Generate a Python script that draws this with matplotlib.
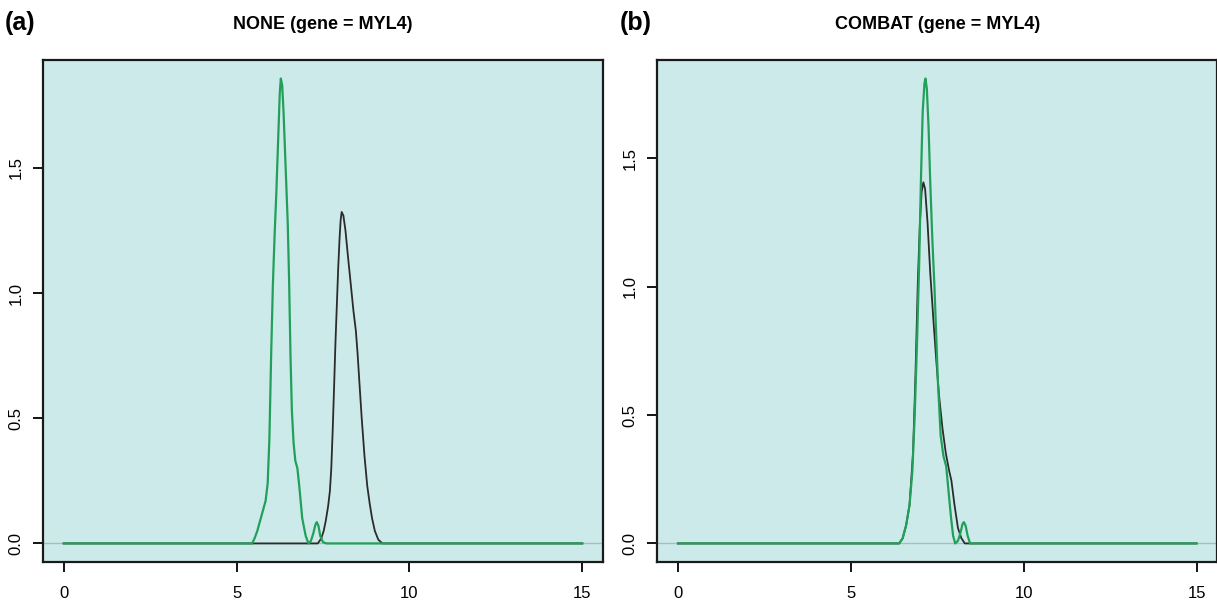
import numpy as np
import matplotlib.pyplot as plt

plt.rcParams['font.family'] = ['Liberation Sans', 'DejaVu Sans']

# density curves (x, density)
none_green_x = [0, 5.45, 5.52, 5.6, 5.68, 5.76, 5.84, 5.9, 5.95, 6.0, 6.05, 6.1, 6.15, 6.2, 6.25,
                6.28, 6.32, 6.36, 6.42, 6.48, 6.52, 6.56, 6.6, 6.65, 6.7, 6.76, 6.82, 6.9,
                7.0, 7.08, 7.15, 7.22, 7.28, 7.32, 7.37, 7.42, 7.5, 7.6, 15]
none_green_y = [0, 0, 0.02, 0.05, 0.09, 0.13, 0.17, 0.24, 0.42, 0.75, 1.03, 1.23, 1.4, 1.6, 1.8,
                1.857, 1.83, 1.72, 1.5, 1.28, 1.05, 0.75, 0.53, 0.4, 0.33, 0.3, 0.22, 0.1,
                0.03, 0.0, 0.01, 0.04, 0.075, 0.085, 0.07, 0.03, 0.005, 0, 0]

none_black_x = [0, 7.35, 7.45, 7.52, 7.58, 7.65, 7.7, 7.74, 7.78, 7.82, 7.86, 7.9, 7.94, 7.98,
                8.01, 8.04, 8.09, 8.15, 8.22, 8.3, 8.38, 8.45, 8.5, 8.55, 8.62, 8.7, 8.78,
                8.85, 8.92, 9.0, 9.1, 9.22, 15]
none_black_y = [0, 0, 0.02, 0.05, 0.09, 0.15, 0.21, 0.3, 0.45, 0.62, 0.8, 0.95, 1.1, 1.22,
                1.29, 1.324, 1.31, 1.25, 1.15, 1.04, 0.93, 0.85, 0.76, 0.65, 0.5, 0.35, 0.23,
                0.16, 0.1, 0.05, 0.015, 0, 0]

combat_green_x = [0, 6.4, 6.5, 6.6, 6.7, 6.78, 6.85, 6.92, 6.98, 7.03, 7.08, 7.13, 7.16, 7.2,
                  7.25, 7.3, 7.36, 7.42, 7.52, 7.6, 7.68, 7.76, 7.83, 7.9, 7.96, 8.02, 8.1,
                  8.17, 8.23, 8.27, 8.32, 8.38, 8.45, 15]
combat_green_y = [0, 0, 0.02, 0.07, 0.15, 0.28, 0.5, 0.8, 1.1, 1.42, 1.68, 1.79, 1.81, 1.77,
                  1.62, 1.4, 1.18, 1.0, 0.63, 0.42, 0.34, 0.3, 0.2, 0.1, 0.03, 0.0, 0.01,
                  0.04, 0.075, 0.083, 0.07, 0.03, 0, 0]

combat_black_x = [0, 6.4, 6.5, 6.6, 6.7, 6.8, 6.87, 6.94, 7.0, 7.05, 7.1, 7.15, 7.22, 7.3,
                  7.4, 7.48, 7.55, 7.65, 7.75, 7.85, 7.91, 8.0, 8.1, 8.2, 8.3, 15]
combat_black_y = [0, 0, 0.02, 0.07, 0.15, 0.35, 0.65, 1.02, 1.25, 1.37, 1.406, 1.38, 1.25, 1.05,
                  0.85, 0.7, 0.58, 0.45, 0.35, 0.28, 0.245, 0.15, 0.06, 0.02, 0, 0]

panels = [
    ('(a)', 'NONE (gene = MYL4)', none_black_x, none_black_y, none_green_x, none_green_y),
    ('(b)', 'COMBAT (gene = MYL4)', combat_black_x, combat_black_y, combat_green_x, combat_green_y),
]

bg = '#cdeaea'
green = '#22a05a'
black = '#2b2b2b'

fig = plt.figure(figsize=(12.17, 6.02), dpi=100)
lefts = [0.0353, 0.540]
for i, (lab, title, bx, by, gx, gy) in enumerate(panels):
    ax = fig.add_axes([lefts[i], 0.0664, 0.4602, 0.834])
    ax.set_facecolor(bg)
    ax.axhline(0, color='#b0b8b8', lw=1)
    ax.plot(bx, by, color=black, lw=1.3)
    ax.plot(gx, gy, color=green, lw=1.6)
    ymax = max(max(by), max(gy))
    ax.set_xlim(-0.6, 15.6)
    ax.set_ylim(-0.04 * ymax, 1.04 * ymax)
    ax.set_xticks([0, 5, 10, 15])
    ax.set_yticks([0.0, 0.5, 1.0, 1.5])
    ax.set_yticklabels(['0.0', '0.5', '1.0', '1.5'], rotation=90, va='center')
    ax.tick_params(direction='out', length=7, width=1.3, labelsize=12)
    ax.tick_params(axis='x', pad=10)
    ax.tick_params(axis='y', pad=7)
    for s in ax.spines.values():
        s.set_linewidth(1.6)
        s.set_color('#1a1a1a')
    ax.set_title(title, fontsize=13, fontweight='bold', pad=22)
    fig.text(lefts[i] - 0.031, 0.962, lab, fontsize=18, fontweight='bold', va='center')

fig.savefig('out.png', dpi=100)
